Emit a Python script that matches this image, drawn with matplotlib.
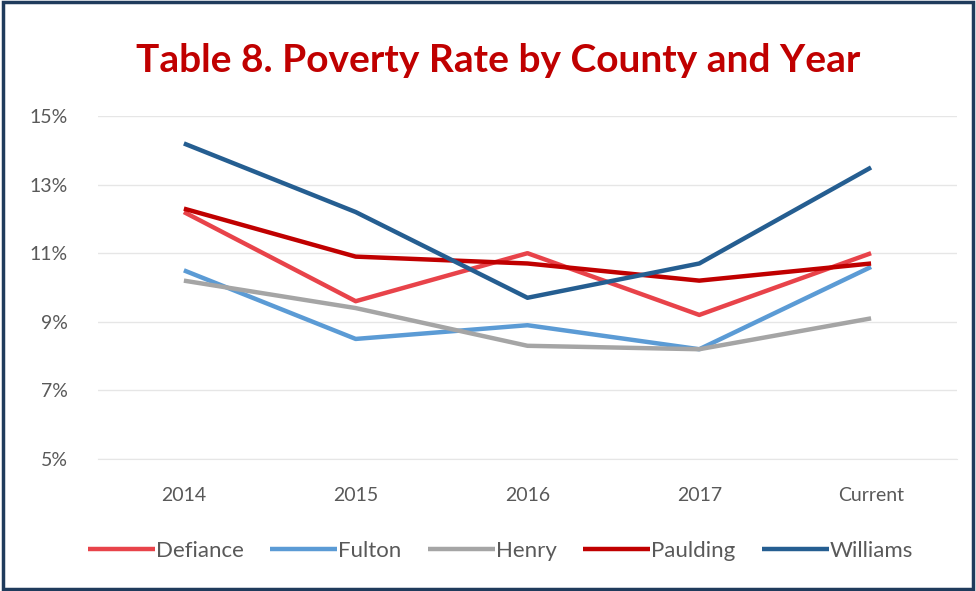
import matplotlib.pyplot as plt
from matplotlib.patches import Rectangle

years = ["2014", "2015", "2016", "2017", "Current"]
defiance = [12.2, 9.6, 11.0, 9.2, 11.0]
fulton = [10.5, 8.5, 8.9, 8.2, 10.6]
henry = [10.2, 9.4, 8.3, 8.2, 9.1]
paulding = [12.3, 10.9, 10.7, 10.2, 10.7]
williams = [14.2, 12.2, 9.7, 10.7, 13.5]

series = [("Defiance", defiance, "#E8434A"),
          ("Fulton", fulton, "#5B9BD5"),
          ("Henry", henry, "#A5A5A5"),
          ("Paulding", paulding, "#C00000"),
          ("Williams", williams, "#255E91")]

plt.rcParams['font.family'] = ['Lato', 'DejaVu Sans']

fig = plt.figure(figsize=(9.76, 5.91), dpi=100)
ax = fig.add_axes([0.1004, 0.2234, 0.8801, 0.5803])

x = range(len(years))
for name, vals, col in series:
    ax.plot(x, vals, color=col, lw=3.2, label=name, solid_capstyle='butt')

ax.set_xlim(-0.5, 4.5)
ax.set_ylim(5, 15)
ax.set_yticks([5, 7, 9, 11, 13, 15])
ax.set_yticklabels(["5%", "7%", "9%", "11%", "13%", "15%"])
ax.set_xticks(list(x))
ax.set_xticklabels(years)
ax.grid(axis='y', color='#E6E6E6', lw=1)
ax.set_axisbelow(True)
for s in ['top', 'right', 'left']:
    ax.spines[s].set_visible(False)
ax.spines['bottom'].set_color('#E6E6E6')
ax.tick_params(length=0, labelsize=14, colors='#595959')
ax.tick_params(axis='x', pad=20)
ax.tick_params(axis='y', pad=22)

fig.text(0.51, 0.898, "Table 8. Poverty Rate by County and Year", ha='center', va='center',
         fontsize=28, fontweight='bold', color='#C00000')

ax.legend(loc='center', bbox_to_anchor=(0.513, 0.068), bbox_transform=fig.transFigure,
          ncol=5, frameon=False, fontsize=16, handlelength=3.0, handletextpad=0.05,
          columnspacing=1.2, labelcolor='#595959')

# frame around the picture
fig.patches.append(Rectangle((0.003, 0.004), 0.994, 0.992, transform=fig.transFigure,
                             fill=False, edgecolor='#1F3B5C', lw=2.5))

fig.savefig("out.png", dpi=100)
